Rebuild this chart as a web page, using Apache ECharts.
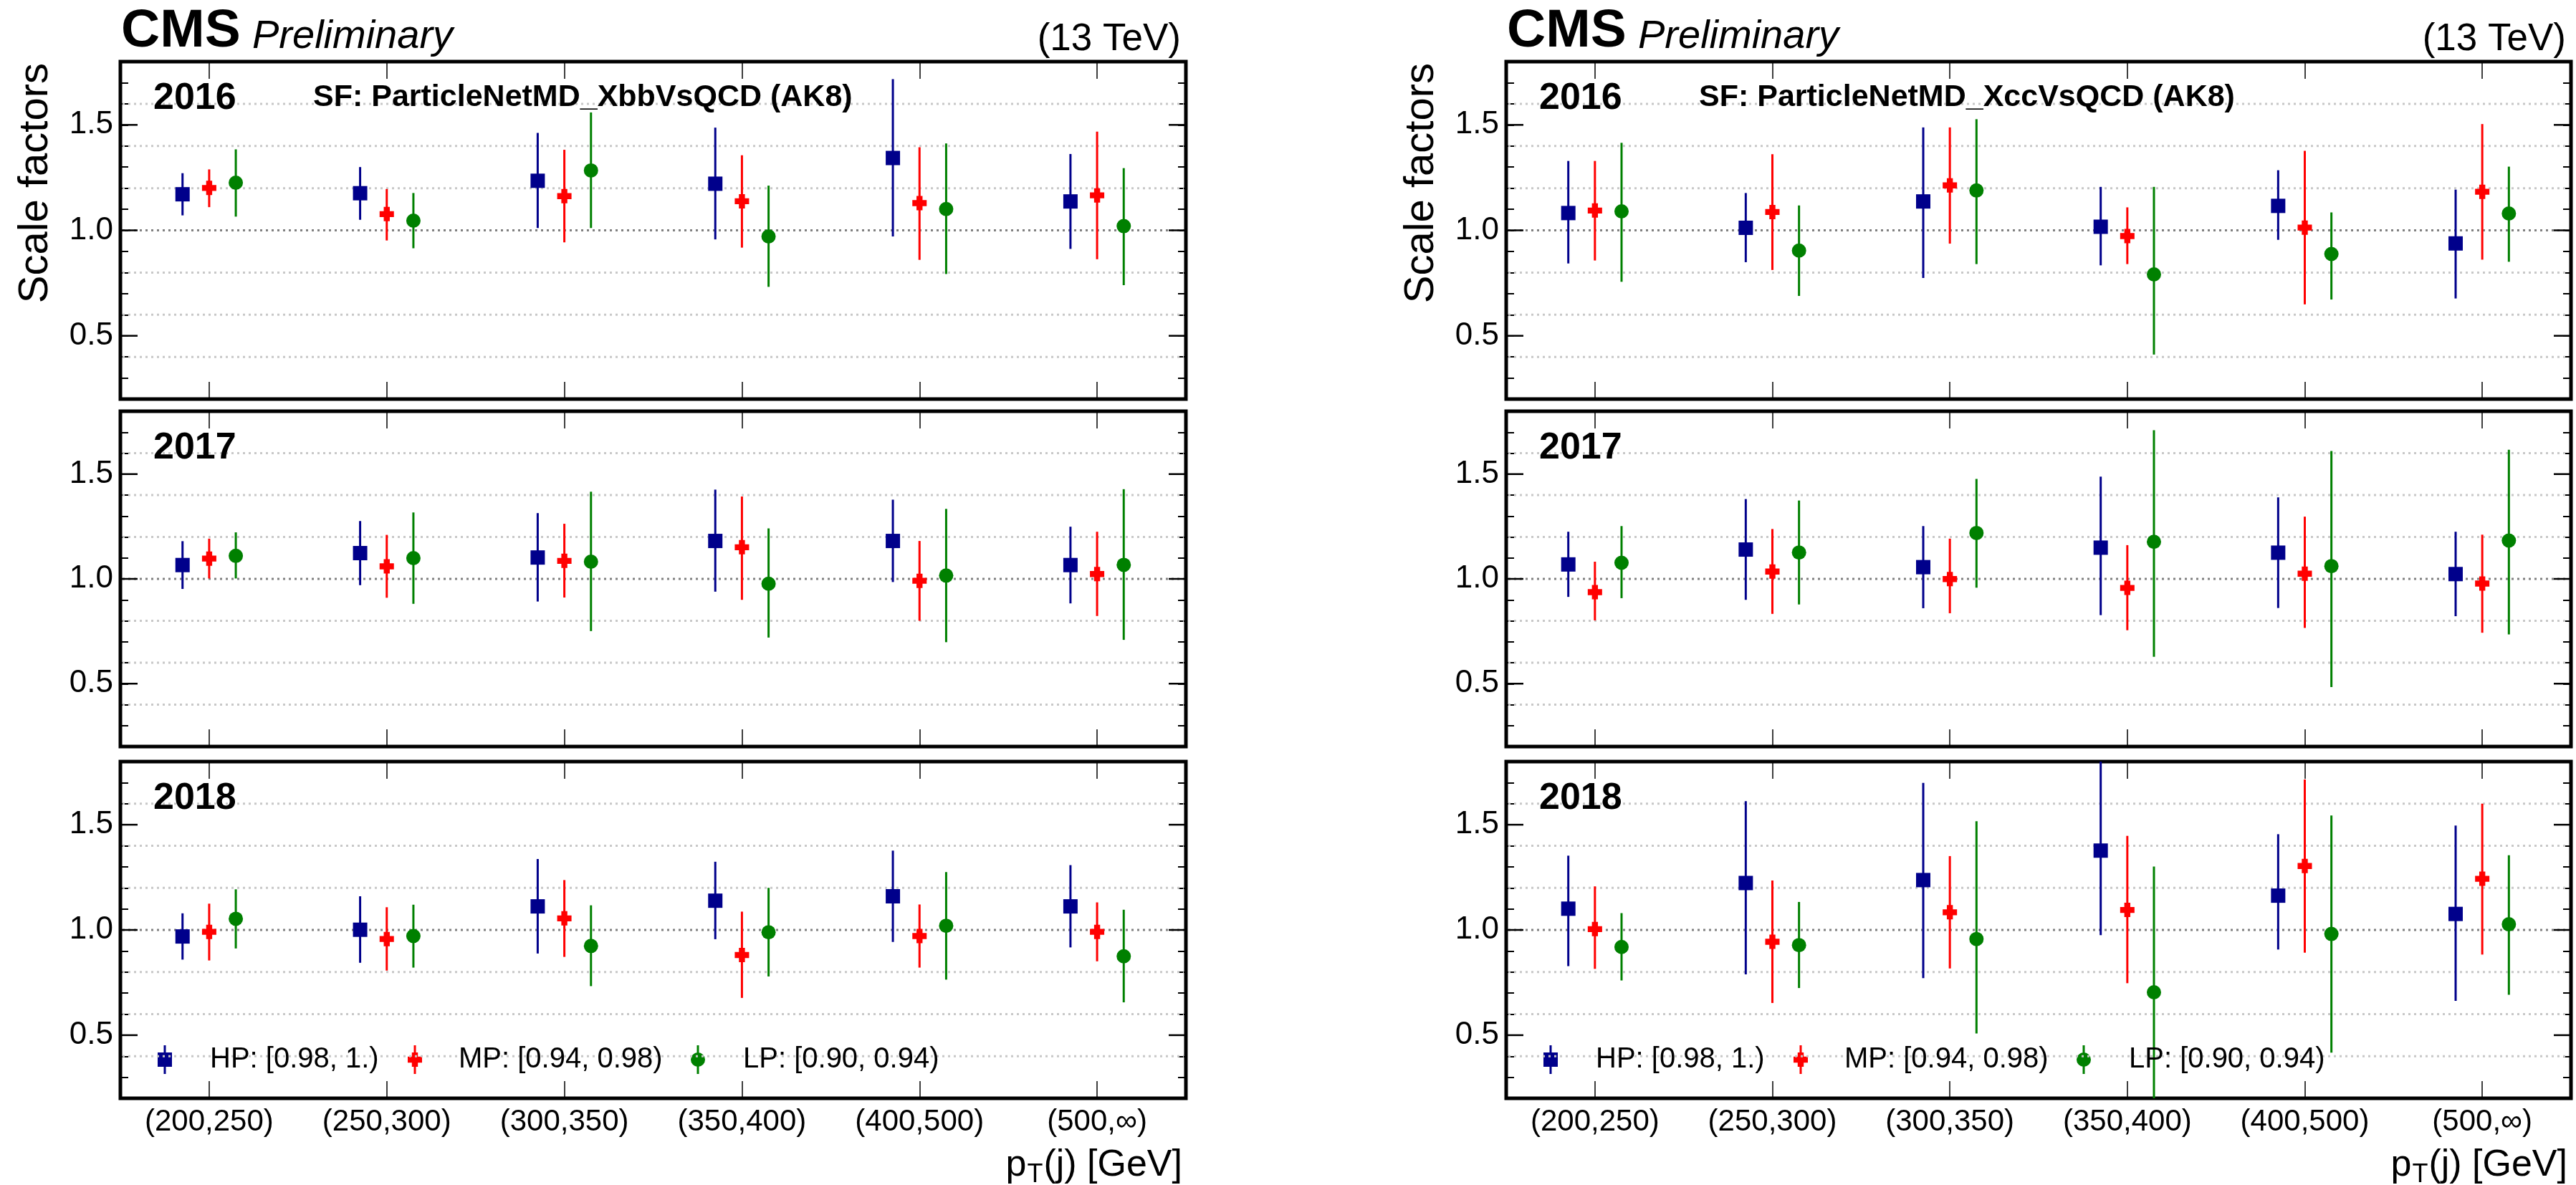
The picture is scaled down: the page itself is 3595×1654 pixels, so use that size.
<!DOCTYPE html>
<html>
<head>
<meta charset="utf-8">
<script src="https://cdn.jsdelivr.net/npm/echarts@6/dist/echarts.min.js"></script>
<style>
html,body{margin:0;padding:0;background:#fff;}
#chart{width:3595px;height:1654px;}
</style>
</head>
<body>
<div id="chart"></div>
<script>
// ---------------- data ----------------
const categories = ['(200,250)', '(250,300)', '(300,350)', '(350,400)', '(400,500)', '(500,\u221e)'];
const years = ['2016', '2017', '2018'];
const taggerTitles = ['SF: ParticleNetMD_XbbVsQCD (AK8)', 'SF: ParticleNetMD_XccVsQCD (AK8)'];
const wpLabels = ['HP: [0.98, 1.)', 'MP: [0.94, 0.98)', 'LP: [0.90, 0.94)'];
const yMajorTicks = [0.5, 1.0, 1.5];
const gridLinesLight = [0.4, 0.6, 0.8, 1.2, 1.4, 1.6];
const gridLinesDark = [1.0];

// each entry: [scale factor, lower edge, upper edge]
const xbb2016HP = [[1.171,1.071,1.271],[1.176,1.050,1.300],[1.235,1.011,1.462],[1.221,0.957,1.487],[1.343,0.971,1.717],[1.137,0.912,1.362]];
const xbb2016MP = [[1.201,1.110,1.289],[1.077,0.952,1.196],[1.162,0.943,1.382],[1.138,0.918,1.356],[1.129,0.860,1.394],[1.166,0.863,1.468]];
const xbb2016LP = [[1.226,1.065,1.384],[1.046,0.915,1.177],[1.284,1.011,1.559],[0.971,0.732,1.212],[1.101,0.793,1.412],[1.020,0.740,1.295]];

const xbb2017HP = [[1.066,0.952,1.180],[1.123,0.970,1.276],[1.102,0.892,1.314],[1.181,0.939,1.426],[1.181,0.985,1.378],[1.066,0.883,1.249]];
const xbb2017MP = [[1.097,1.002,1.192],[1.060,0.910,1.210],[1.086,0.911,1.263],[1.151,0.900,1.393],[0.991,0.800,1.181],[1.023,0.823,1.225]];
const xbb2017LP = [[1.110,1.002,1.222],[1.099,0.881,1.317],[1.082,0.751,1.416],[0.977,0.720,1.241],[1.016,0.698,1.334],[1.067,0.709,1.428]];

const xbb2018HP = [[0.969,0.859,1.079],[1.001,0.844,1.160],[1.112,0.888,1.337],[1.139,0.956,1.324],[1.160,0.943,1.377],[1.112,0.917,1.308]];
const xbb2018MP = [[0.991,0.855,1.125],[0.957,0.807,1.108],[1.055,0.872,1.237],[0.881,0.677,1.087],[0.971,0.821,1.121],[0.991,0.851,1.131]];
const xbb2018LP = [[1.053,0.912,1.193],[0.971,0.821,1.120],[0.924,0.733,1.117],[0.989,0.779,1.200],[1.020,0.764,1.275],[0.875,0.656,1.096]];

const xcc2016HP = [[1.082,0.843,1.329],[1.012,0.849,1.177],[1.137,0.774,1.488],[1.017,0.834,1.206],[1.116,0.955,1.285],[0.938,0.677,1.193]];
const xcc2016MP = [[1.094,0.857,1.329],[1.087,0.812,1.361],[1.213,0.937,1.488],[0.973,0.840,1.109],[1.013,0.649,1.377],[1.183,0.861,1.504]];
const xcc2016LP = [[1.090,0.756,1.415],[0.904,0.689,1.118],[1.189,0.840,1.527],[0.791,0.411,1.206],[0.888,0.672,1.085],[1.080,0.851,1.302]];

const xcc2017HP = [[1.069,0.914,1.225],[1.140,0.900,1.381],[1.056,0.860,1.252],[1.149,0.827,1.488],[1.125,0.861,1.389],[1.023,0.822,1.225]];
const xcc2017MP = [[0.937,0.802,1.082],[1.035,0.833,1.238],[0.999,0.836,1.192],[0.957,0.755,1.161],[1.025,0.766,1.297],[0.978,0.743,1.211]];
const xcc2017LP = [[1.077,0.908,1.252],[1.126,0.878,1.374],[1.219,0.958,1.477],[1.177,0.628,1.709],[1.061,0.484,1.610],[1.183,0.735,1.616]];

const xcc2018HP = [[1.101,0.828,1.353],[1.223,0.789,1.612],[1.237,0.771,1.699],[1.377,0.975,1.850],[1.163,0.907,1.455],[1.076,0.663,1.496]];
const xcc2018MP = [[1.004,0.815,1.207],[0.944,0.653,1.235],[1.084,0.817,1.351],[1.095,0.747,1.447],[1.304,0.892,1.715],[1.243,0.883,1.600]];
const xcc2018LP = [[0.919,0.760,1.080],[0.928,0.724,1.133],[0.957,0.508,1.517],[0.704,0.150,1.301],[0.981,0.417,1.544],[1.027,0.692,1.355]];

// ---------------- layout & style ----------------
const FONT = 'Liberation Sans, Arial, Helvetica, sans-serif';
const colLeft = [168, 2102];
const colWidth = [1487, 1486];
const rowTop = [86, 574, 1063];
const rowHeight = [471, 468, 470];
const wpStyle = [
  {kind: 'square', color: '#00008b', offset: -0.15},
  {kind: 'cross', color: '#ff0000', offset: 0},
  {kind: 'circle', color: '#008000', offset: 0.15}
];

const panels = [
  {col: 0, row: 0, data: [xbb2016HP, xbb2016MP, xbb2016LP]},
  {col: 0, row: 1, data: [xbb2017HP, xbb2017MP, xbb2017LP]},
  {col: 0, row: 2, data: [xbb2018HP, xbb2018MP, xbb2018LP]},
  {col: 1, row: 0, data: [xcc2016HP, xcc2016MP, xcc2016LP]},
  {col: 1, row: 1, data: [xcc2017HP, xcc2017MP, xcc2017LP]},
  {col: 1, row: 2, data: [xcc2018HP, xcc2018MP, xcc2018LP]}
];

function markerShape(kind, x, y, color, s) {
  s = s || 10;
  if (kind === 'square') {
    return {type: 'rect', shape: {x: x - s, y: y - s, width: 2 * s, height: 2 * s}, style: {fill: color}};
  }
  if (kind === 'circle') {
    return {type: 'circle', shape: {cx: x, cy: y, r: s}, style: {fill: color}};
  }
  const t = s * 0.42;
  return {type: 'polygon', shape: {points: [
    [x - t, y - s], [x + t, y - s], [x + t, y - t], [x + s, y - t], [x + s, y + t], [x + t, y + t],
    [x + t, y + s], [x - t, y + s], [x - t, y + t], [x - s, y + t], [x - s, y - t], [x - t, y - t]
  ]}, style: {fill: color}};
}

function makeRender(st) {
  return function (params, api) {
    const ci = api.value(0);
    const bw = api.size([1, 0])[0];
    const c = api.coord([ci, api.value(1)]);
    const lo = api.coord([ci, api.value(2)]);
    const hi = api.coord([ci, api.value(3)]);
    const x = c[0] + st.offset * bw;
    return {type: 'group', children: [
      {type: 'line', shape: {x1: x, y1: lo[1], x2: x, y2: hi[1]}, style: {stroke: st.color, lineWidth: 3}},
      markerShape(st.kind, x, c[1], st.color)
    ]};
  };
}

function gridLineRender(color) {
  return function (params, api) {
    const cs = params.coordSys;
    const y = api.coord([0, api.value(1)])[1];
    return {type: 'line', shape: {x1: cs.x + 3, y1: y, x2: cs.x + cs.width - 3, y2: y},
      style: {stroke: color, lineWidth: 3, lineDash: [3, 5]}};
  };
}

function majorTickRender(params, api) {
  const cs = params.coordSys;
  const y = api.coord([0, api.value(1)])[1];
  return {type: 'group', children: [
    {type: 'line', shape: {x1: cs.x, y1: y, x2: cs.x + 24, y2: y}, style: {stroke: '#000', lineWidth: 2.5}},
    {type: 'line', shape: {x1: cs.x + cs.width - 24, y1: y, x2: cs.x + cs.width, y2: y}, style: {stroke: '#000', lineWidth: 2.5}}
  ]};
}

const grids = [], xAxes = [], yAxes = [], series = [], graphics = [];

function isMajor(v) { return yMajorTicks.some(t => Math.abs(t - v) < 1e-6); }

panels.forEach((p, pi) => {
  const left = colLeft[p.col], width = colWidth[p.col];
  const top = rowTop[p.row], height = rowHeight[p.row];
  grids.push({left: left, top: top, width: width, height: height, show: true,
    borderColor: '#000', borderWidth: 5, backgroundColor: 'transparent', containLabel: false});
  const xBase = {gridIndex: pi, type: 'category', data: categories, boundaryGap: true,
    axisLine: {show: false}, splitLine: {show: false},
    axisTick: {show: true, inside: true, length: 24, alignWithLabel: true, lineStyle: {color: '#000', width: 1.5}}};
  xAxes.push(Object.assign({}, xBase, {position: 'bottom',
    axisLabel: {show: p.row === 2, interval: 0, margin: 12, fontSize: 42, color: '#000', fontFamily: FONT}}));
  xAxes.push(Object.assign({}, xBase, {position: 'top', axisLabel: {show: false}}));
  const yBase = {gridIndex: pi, type: 'value', min: 0.2, max: 1.8, interval: 0.1,
    axisLine: {show: false}, splitLine: {show: false},
    axisTick: {show: true, inside: true, length: 11, lineStyle: {color: '#000', width: 2}}};
  yAxes.push(Object.assign({}, yBase, {position: 'left',
    axisLabel: {show: true, margin: 10, fontSize: 44, color: '#000', fontFamily: FONT,
      showMinLabel: false, showMaxLabel: false,
      formatter: v => isMajor(v) ? v.toFixed(1) : ''}}));
  yAxes.push(Object.assign({}, yBase, {position: 'right', axisLabel: {show: false}}));

  const xi = 2 * pi, yi = 2 * pi;
  series.push({type: 'custom', name: 'grid-light', xAxisIndex: xi, yAxisIndex: yi, silent: true, z: 1,
    renderItem: gridLineRender('#c8c8c8'), data: gridLinesLight.map(v => [0, v])});
  series.push({type: 'custom', name: 'grid-dark', xAxisIndex: xi, yAxisIndex: yi, silent: true, z: 1,
    renderItem: gridLineRender('#808080'), data: gridLinesDark.map(v => [0, v])});
  series.push({type: 'custom', name: 'major-ticks', xAxisIndex: xi, yAxisIndex: yi, silent: true, z: 2,
    renderItem: majorTickRender, data: yMajorTicks.map(v => [0, v])});
  p.data.forEach((arr, wi) => {
    series.push({type: 'custom', name: wpLabels[wi], xAxisIndex: xi, yAxisIndex: yi, z: 5, clip: true,
      renderItem: makeRender(wpStyle[wi]),
      encode: {x: 0, y: 1},
      data: arr.map((d, i) => [i, d[0], d[1], d[2]])});
  });

  // year label
  graphics.push({type: 'text', x: left + 46, y: top + 52, z: 10,
    style: {text: years[p.row], font: 'bold 52px ' + FONT, fill: '#000', verticalAlign: 'middle', align: 'left'}});
  if (p.row === 0) {
    graphics.push({type: 'text', x: left + 269, y: top + 50, z: 10,
      style: {text: taggerTitles[p.col], font: 'bold 43px ' + FONT, fill: '#000', verticalAlign: 'middle', align: 'left'}});
  }
  if (p.row === 2) {
    const relMarker = [62, 411, 806], relText = [125, 472, 869];
    const ly = top + 416;
    wpStyle.forEach((st, wi) => {
      const mx = left + relMarker[wi];
      graphics.push({type: 'group', z: 10, children: [
        {type: 'line', shape: {x1: mx, y1: ly - 20, x2: mx, y2: ly + 20}, style: {stroke: st.color, lineWidth: 3}},
        markerShape(st.kind, mx, ly, st.color)
      ]});
      graphics.push({type: 'text', x: left + relText[wi], y: ly, z: 10,
        style: {text: wpLabels[wi], font: '40px ' + FONT, fill: '#000', verticalAlign: 'middle', align: 'left'}});
    });
  }
});

// headers, axis titles
const measureCtx = document.createElement('canvas').getContext('2d');
function textW(str, font) { measureCtx.font = font; return measureCtx.measureText(str).width; }

[0, 1].forEach(col => {
  const left = colLeft[col], right = colLeft[col] + colWidth[col];
  graphics.push({type: 'text', x: left + 1, y: 44, z: 10,
    style: {text: 'CMS', font: 'bold 75px ' + FONT, fill: '#000', verticalAlign: 'middle', align: 'left'}});
  graphics.push({type: 'text', x: left + 184, y: 51, z: 10,
    style: {text: 'Preliminary', font: 'italic 56px ' + FONT, fill: '#000', verticalAlign: 'middle', align: 'left'}});
  graphics.push({type: 'text', x: right - 7, y: 55, z: 10,
    style: {text: '(13 TeV)', font: '53px ' + FONT, fill: '#000', verticalAlign: 'middle', align: 'right'}});
  // y-axis title
  graphics.push({type: 'text', x: left - 118, y: rowTop[0] + 2, rotation: Math.PI / 2, z: 10,
    style: {text: 'Scale factors', font: '58px ' + FONT, fill: '#000', verticalAlign: 'middle', align: 'right'}});
  // x-axis title: p_T(j) [GeV]
  const bigF = '52px ' + FONT, subF = '36px ' + FONT;
  const baseY = 1627;
  const xr = right - 5;
  const w1 = textW('(j) [GeV]', bigF), w2 = textW('T', subF);
  graphics.push({type: 'text', x: xr, y: baseY, z: 10,
    style: {text: '(j) [GeV]', font: bigF, fill: '#000', verticalAlign: 'middle', align: 'right'}});
  graphics.push({type: 'text', x: xr - w1 - 1, y: baseY + 13, z: 10,
    style: {text: 'T', font: subF, fill: '#000', verticalAlign: 'middle', align: 'right'}});
  graphics.push({type: 'text', x: xr - w1 - w2 - 2, y: baseY, z: 10,
    style: {text: 'p', font: bigF, fill: '#000', verticalAlign: 'middle', align: 'right'}});
});

const chart = echarts.init(document.getElementById('chart'), null, {renderer: 'canvas'});
chart.setOption({
  animation: false,
  backgroundColor: '#fff',
  grid: grids,
  xAxis: xAxes,
  yAxis: yAxes,
  series: series,
  graphic: graphics
});
</script>
</body>
</html>
